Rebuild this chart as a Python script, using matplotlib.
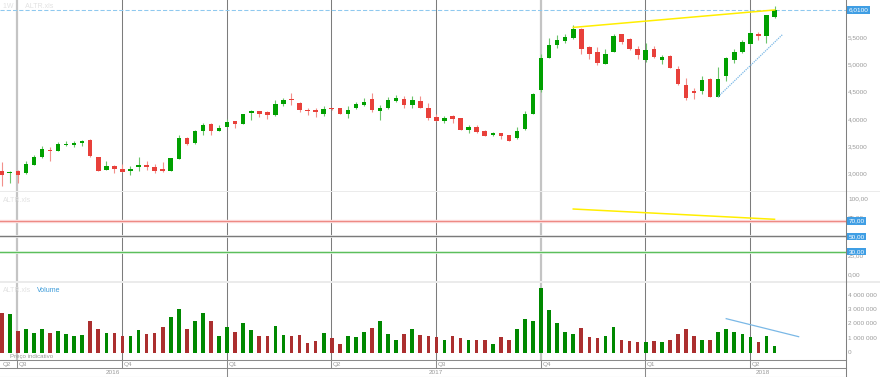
import matplotlib
matplotlib.use('Agg')
import matplotlib.pyplot as plt
import numpy as np
from matplotlib.patches import Rectangle

W, H = 880, 377

# ---------------- data (weekly candles) ----------------
opens = [3.06, 3.02, 3.06, 3.01, 3.17, 3.31, 3.44, 3.43, 3.53, 3.53,
         3.56, 3.62, 3.31, 3.08, 3.15, 3.10, 3.06, 3.12, 3.17, 3.13,
         3.09, 3.06, 3.28, 3.66, 3.56, 3.78, 3.92, 3.79, 3.87, 3.97,
         3.92, 4.12, 4.15, 4.14, 4.08, 4.28, 4.38, 4.31, 4.17, 4.17,
         4.11, 4.21, 4.21, 4.11, 4.21, 4.27, 4.38, 4.16, 4.21, 4.34,
         4.38, 4.27, 4.34, 4.22, 4.05, 3.98, 4.07, 4.02, 3.81, 3.86,
         3.78, 3.71, 3.75, 3.71, 3.66, 3.82, 4.11, 4.54, 5.13, 5.37,
         5.44, 5.49, 5.67, 5.33, 5.23, 5.02, 5.24, 5.56, 5.48, 5.29,
         5.09, 5.29, 5.09, 5.17, 4.92, 4.63, 4.52, 4.53, 4.74, 4.42,
         4.79, 5.10, 5.23, 5.39, 5.56, 5.54, 5.89]
highs = [3.22, 3.05, 3.07, 3.23, 3.35, 3.51, 3.50, 3.58, 3.61, 3.61,
         3.62, 3.64, 3.32, 3.24, 3.16, 3.18, 3.15, 3.31, 3.23, 3.18,
         3.22, 3.30, 3.72, 3.68, 3.80, 3.93, 3.93, 3.90, 4.01, 3.98,
         4.11, 4.17, 4.16, 4.15, 4.36, 4.39, 4.48, 4.32, 4.21, 4.22,
         4.24, 4.22, 4.22, 4.25, 4.32, 4.40, 4.48, 4.27, 4.41, 4.45,
         4.43, 4.43, 4.43, 4.30, 4.10, 4.07, 4.08, 4.03, 3.89, 3.90,
         3.80, 3.77, 3.76, 3.72, 3.86, 4.15, 4.48, 5.20, 5.49, 5.55,
         5.57, 5.73, 5.68, 5.34, 5.33, 5.29, 5.57, 5.57, 5.50, 5.34,
         5.41, 5.35, 5.18, 5.18, 4.98, 4.76, 4.57, 4.80, 4.76, 4.96,
         5.15, 5.29, 5.46, 5.61, 5.61, 5.92, 6.08]
lows = [2.78, 2.83, 2.84, 3.00, 3.16, 3.30, 3.24, 3.42, 3.52, 3.50,
        3.52, 3.32, 3.05, 3.07, 3.02, 3.03, 2.98, 3.06, 3.08, 3.01,
        3.04, 3.05, 3.27, 3.53, 3.55, 3.72, 3.72, 3.78, 3.86, 3.85,
        3.91, 4.00, 4.05, 4.01, 4.07, 4.24, 4.27, 4.13, 4.08, 4.05,
        4.06, 4.18, 4.10, 4.02, 4.20, 4.25, 4.13, 3.99, 4.20, 4.33,
        4.22, 4.21, 4.21, 3.99, 3.97, 3.94, 3.94, 3.80, 3.75, 3.76,
        3.69, 3.70, 3.64, 3.60, 3.64, 3.81, 4.10, 4.51, 5.12, 5.31,
        5.40, 5.48, 5.21, 5.11, 5.00, 5.01, 5.23, 5.39, 5.28, 5.11,
        5.06, 5.13, 5.02, 4.94, 4.64, 4.36, 4.37, 4.47, 4.41, 4.41,
        4.71, 5.03, 5.22, 5.37, 5.46, 5.40, 5.87]
closes = [2.98, 3.04, 2.99, 3.18, 3.31, 3.46, 3.42, 3.55, 3.55, 3.57,
          3.60, 3.33, 3.06, 3.15, 3.09, 3.04, 3.09, 3.17, 3.13, 3.06,
          3.05, 3.29, 3.66, 3.55, 3.79, 3.90, 3.79, 3.85, 3.95, 3.92,
          4.10, 4.16, 4.10, 4.08, 4.28, 4.35, 4.36, 4.17, 4.16, 4.14,
          4.19, 4.19, 4.11, 4.17, 4.28, 4.32, 4.17, 4.22, 4.35, 4.39,
          4.27, 4.36, 4.22, 4.02, 3.98, 4.03, 4.01, 3.81, 3.86, 3.77,
          3.70, 3.75, 3.70, 3.61, 3.79, 4.11, 4.47, 5.13, 5.37, 5.45,
          5.51, 5.67, 5.29, 5.21, 5.04, 5.21, 5.53, 5.43, 5.29, 5.18,
          5.28, 5.14, 5.15, 4.95, 4.65, 4.39, 4.49, 4.73, 4.42, 4.75,
          5.13, 5.24, 5.43, 5.58, 5.53, 5.91, 6.01]
volumes = [2.78, 2.69, 1.50, 1.64, 1.37, 1.64, 1.39, 1.50, 1.27, 1.13,
           1.23, 2.18, 1.64, 1.37, 1.37, 1.13, 1.13, 1.55, 1.27, 1.37,
           1.78, 2.45, 3.03, 1.62, 2.22, 2.73, 2.18, 1.18, 1.81, 1.44,
           2.04, 1.57, 1.13, 1.13, 1.85, 1.23, 1.13, 1.23, 0.69, 0.81,
           1.37, 1.00, 0.60, 1.18, 1.09, 1.41, 1.69, 2.18, 1.32, 0.86,
           1.32, 1.64, 1.23, 1.13, 1.09, 0.86, 1.13, 1.04, 0.90, 0.86,
           0.86, 0.58, 1.09, 0.86, 1.62, 2.31, 2.22, 4.49, 2.99, 2.08,
           1.44, 1.27, 1.71, 1.09, 1.04, 1.13, 1.76, 0.90, 0.81, 0.72,
           0.76, 0.81, 0.72, 0.90, 1.27, 1.67, 1.13, 0.90, 0.86, 1.41,
           1.67, 1.44, 1.32, 1.09, 0.76, 1.13, 0.49]  # millions

quarter_bars = [2, 15, 28, 41, 54, 67, 80, 93]
quarter_labels = ['Q3', 'Q4', 'Q1', 'Q2', 'Q3', 'Q4', 'Q1', 'Q2']
first_quarter_label = 'Q2'
year_labels = ['2016', '2017', '2018']
year_bounds = [28, 80]

price_ticks = [3.0, 3.5, 4.0, 4.5, 5.0, 5.5]
last_price = 6.01
rsi_ticks = [0, 25, 75, 100]
rsi_levels = [70, 50, 30]
vol_ticks = [0, 1e6, 2e6, 3e6, 4e6]

yellow_trend_x, yellow_trend_y = [71, 96], [5.69, 6.01]
blue_trend_x, blue_trend_y = [89, 97], [4.42, 5.56]
rsi_trend_x, rsi_trend_y = [71, 96], [85.9, 72.4]
vol_trend_x, vol_trend_y = [90, 99], [2.36e6, 1.11e6]

# ---------------- figure ----------------
plt.rcParams['font.family'] = ['Liberation Sans', 'DejaVu Sans']
fig = plt.figure(figsize=(W / 100, H / 100), dpi=100)
fig.patch.set_facecolor('white')

PLOT_R = 846


def ax_px(x0, y0, x1, y1):
    a = fig.add_axes([x0 / W, 1 - y1 / H, (x1 - x0) / W, (y1 - y0) / H])
    a.set_axis_off()
    a.patch.set_alpha(0)
    return a


XL = (-0.21, 104.88)
ax_p = ax_px(0, 0, PLOT_R, 191)
ax_r = ax_px(0, 191, PLOT_R, 282)
ax_v = ax_px(0, 282, PLOT_R, 360)
ax_b = ax_px(0, 360, PLOT_R, 377)
for a in (ax_p, ax_r, ax_v, ax_b):
    a.set_xlim(*XL)
ax_p.set_ylim(2.688, 6.193)
ax_r.set_ylim(-10.1, 109.6)
ax_v.set_ylim(-0.506e6, 4.903e6)
ax_b.set_ylim(0, 17)

n = len(opens)
x = np.arange(n)
o = np.array(opens); c = np.array(closes)
hi = np.array(highs); lo = np.array(lows)
up = c >= o
GREEN, RED = '#00a000', '#e8403a'
GWICK, RWICK = '#6cc46c', '#f2908b'
body_col = np.where(up, GREEN, RED)
wick_col = np.where(up, GWICK, RWICK)

LABEL_COL = '#9a9a9a'
FS = 4.6
qx = [q - 0.04 for q in quarter_bars]
light_q = {0, 5}

# quarter lines in panels
for a in (ax_p, ax_r, ax_v):
    for k, q in enumerate(qx):
        if k in light_q:
            a.axvline(q, color='#c4c4c4', lw=1.6, zorder=1)
        else:
            a.axvline(q, color='#7c7c7c', lw=0.75, zorder=1)

# price panel
ax_p.axhline(last_price, color='#8fc9ef', lw=0.75, ls=(0, (4, 2)), zorder=2)
ax_p.vlines(x, lo, hi, colors=wick_col, lw=0.8, zorder=3)
bottoms = np.minimum(o, c)
heights = np.maximum(np.abs(c - o), 0.018)
ax_p.bar(x, heights, bottom=bottoms, width=0.56, color=body_col,
         edgecolor='none', zorder=4)
ax_p.plot(yellow_trend_x, yellow_trend_y, color='#ffee00', lw=1.1, zorder=5)
ax_p.plot(blue_trend_x, blue_trend_y, color='#7ab8e6', lw=0.9,
          ls=(0, (1, 0.8)), zorder=5)

ytr = ax_p.get_yaxis_transform()
for t in price_ticks:
    ax_p.text(848 / PLOT_R, t, f"{t:.4f}".replace('.', ','), transform=ytr,
              fontsize=FS, color=LABEL_COL, va='center', ha='left', clip_on=False)
ax_p.text(848.5 / PLOT_R, last_price, f"{last_price:.4f}".replace('.', ','),
          transform=ytr, fontsize=FS, color='white', va='center', ha='left',
          clip_on=False,
          bbox=dict(boxstyle='square,pad=0.2', fc='#3f9ee4', ec='none'))
ax_p.text(3, 184, '1W      ALTR.xls', transform=None, fontsize=5,
          color='#e4e4e4') if False else None
fig.text(3 / W, 1 - 7 / H, '1W      ALTR.xls', fontsize=5, color='#e2e2e2',
         va='center', ha='left')

# RSI panel
ax_r.axhline(rsi_levels[0], color='#fbd9d9', lw=2.4, zorder=2)
ax_r.axhline(rsi_levels[0], color='#ee8a84', lw=0.8, zorder=3)
ax_r.axhline(rsi_levels[1], color='#e6e6e6', lw=2.0, zorder=2)
ax_r.axhline(rsi_levels[1], color='#7a7a7a', lw=0.8, zorder=3)
ax_r.axhline(rsi_levels[2], color='#d9f0d9', lw=2.0, zorder=2)
ax_r.axhline(rsi_levels[2], color='#5cbf5c', lw=0.8, zorder=3)
ax_r.plot(rsi_trend_x, rsi_trend_y, color='#ffee00', lw=1.1, zorder=5)
rtr = ax_r.get_yaxis_transform()
for t in rsi_ticks:
    ax_r.text(848 / PLOT_R, t, f"{t:.2f}".replace('.', ','), transform=rtr,
              fontsize=FS, color=LABEL_COL, va='center', ha='left', clip_on=False)
for t in rsi_levels:
    ax_r.text(848.5 / PLOT_R, t, f"{t:.2f}".replace('.', ','), transform=rtr,
              fontsize=FS, color='white', va='center', ha='left', clip_on=False,
              bbox=dict(boxstyle='square,pad=0.2', fc='#3f9ee4', ec='none'))
fig.text(3 / W, 1 - 201 / H, 'ALTR.xls', fontsize=5, color='#e2e2e2',
         va='center', ha='left')

# Volume panel
vol = np.array(volumes) * 1e6
vol_col = np.where(up, '#008800', '#ab2f2f')
ax_v.bar(x, vol, width=0.45, color=vol_col, edgecolor='none', zorder=4)
ax_v.plot(vol_trend_x, vol_trend_y, color='#7ab8e6', lw=0.9, zorder=5,
          clip_on=False)
vtr = ax_v.get_yaxis_transform()
for t in vol_ticks:
    lab = f"{int(t):,}".replace(',', ' ')
    ax_v.text(848 / PLOT_R, t, lab, transform=vtr, fontsize=FS,
              color=LABEL_COL, va='center', ha='left', clip_on=False)
fig.text(3 / W, 1 - 291 / H, 'ALTR.xls', fontsize=5, color='#e2e2e2',
         va='center', ha='left')
fig.text(37 / W, 1 - 291 / H, 'Volume', fontsize=5, color='#3a9ad9',
         va='center', ha='left')
fig.text(10 / W, 1 - 356.5 / H, 'Preço indicativo', fontsize=4.4,
         color='#9a9a9a', va='center', ha='left')

# bottom time axis
LINE_C = '#8a8a8a'
ax_b.axhline(17, color=LINE_C, lw=0.75, clip_on=False)
ax_b.axhline(8.7, color=LINE_C, lw=0.75, clip_on=False)
ax_b.axhline(0.3, color=LINE_C, lw=0.75, clip_on=False)
for q in qx:
    ax_b.vlines(q, 8.7, 17, color=LINE_C, lw=0.75)
for yb in year_bounds:
    ax_b.vlines(yb - 0.06, 0.3, 8.7, color=LINE_C, lw=0.75)
ax_b.text(XL[0] + 0.4, 12.9, first_quarter_label, fontsize=FS,
          color=LABEL_COL, va='center', ha='left')
for q, lab in zip(qx, quarter_labels):
    ax_b.text(q + 0.2, 12.9, lab, fontsize=FS, color=LABEL_COL,
              va='center', ha='left')
for px, lab in zip([113, 436, 763], year_labels):
    fig.text(px / W, 1 - 372.5 / H, lab, fontsize=FS, color=LABEL_COL,
             va='center', ha='center')

# overlay: separators and right border
ov = fig.add_axes([0, 0, 1, 1])
ov.set_axis_off()
ov.patch.set_alpha(0)
ov.set_xlim(0, W)
ov.set_ylim(H, 0)
ov.add_patch(Rectangle((0, 190.6), W, 1.8, color='#ebebeb', lw=0))
ov.add_patch(Rectangle((0, 281.2), W, 1.8, color='#ebebeb', lw=0))
ov.plot([PLOT_R, PLOT_R], [0, 377], color='#808080', lw=0.75)

fig.savefig('out.png', dpi=100, facecolor='white')
